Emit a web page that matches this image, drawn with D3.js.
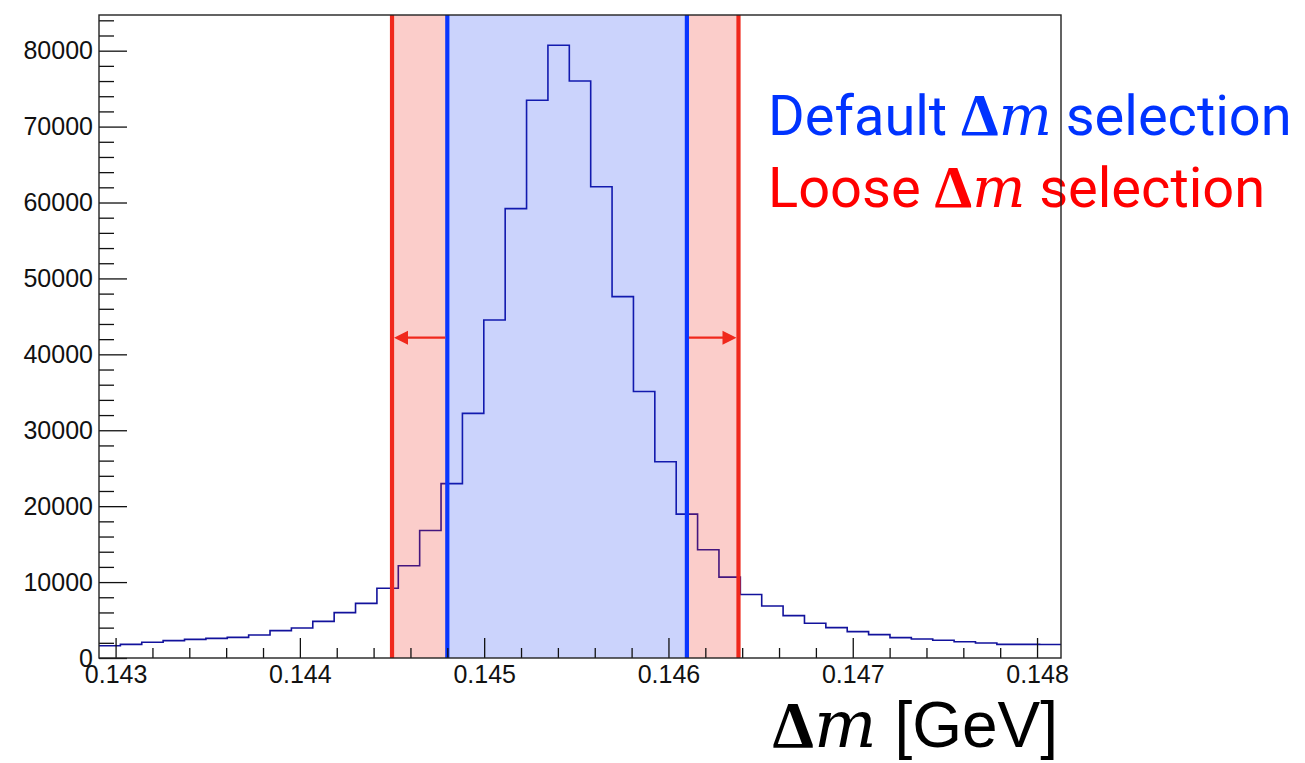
<!DOCTYPE html>
<html>
<head>
<meta charset="utf-8">
<script src="https://cdn.jsdelivr.net/npm/d3@7"></script>
<style>
  html, body { margin: 0; padding: 0; background: #ffffff; }
  svg { display: block; }
</style>
</head>
<body>
<svg id="chart" width="1305" height="763"></svg>
<script>
// ---------------- data ----------------
const xRange = [0.14291, 0.14813];          // histogram axis range [GeV]
const nBins = 45;
const counts = [1620, 1800, 2065, 2285, 2460, 2590, 2720, 3030, 3600, 3950,
                4830, 5975, 7200, 9180, 12150, 16800, 22970, 32220, 44530, 59200,
                73480, 80710, 76010, 62080, 47600, 35100, 25860, 18950, 14260, 10660,
                8360, 6850, 5580, 4570, 4000, 3470, 3075, 2680, 2500, 2330,
                2150, 1980, 1800, 1790, 1780];
const yMax = 84700;
const xMajorTicks = [0.143, 0.144, 0.145, 0.146, 0.147, 0.148];
const xTickLabels = ["0.143", "0.144", "0.145", "0.146", "0.147", "0.148"];
const xMinorTicks = [0.1432, 0.1434, 0.1436, 0.1438, 0.1442, 0.1444, 0.1446, 0.1448,
                     0.1452, 0.1454, 0.1456, 0.1458, 0.1462, 0.1464, 0.1466, 0.1468,
                     0.1472, 0.1474, 0.1476, 0.1478];
const yMajorTicks = [0, 10000, 20000, 30000, 40000, 50000, 60000, 70000, 80000];
const yMinorStep = 2000;
const defaultCut = [0.1448, 0.1461];
const looseCut = [0.1445, 0.14638];
const legendLines = [
  {pre: "Default ", post: " selection", key: "default"},
  {pre: "Loose ", post: " selection", key: "loose"}
];
const xTitle = {greek: "Δ", sym: "m", unit: " [GeV]"};

// ---------------- layout ----------------
const L = 99, R = 1061, T = 15, B = 658;
const svg = d3.select("#chart");
const x = d3.scaleLinear().domain(xRange).range([L, R]);
const y = d3.scaleLinear().domain([0, yMax]).range([B, T]);

const blueLine = "#0a36ff";
const redLine = "#f0281c";
const histCol = "#12129c";
const serif = "'Liberation Serif', 'Times New Roman', serif";
const mathIt = "'DejaVu Serif', 'Liberation Serif', serif";

// ---------------- histogram ----------------
const bw = (xRange[1] - xRange[0]) / nBins;
const pts = counts.map((c, i) => [xRange[0] + i * bw, c]);
pts.push([xRange[1], counts[counts.length - 1]]);
svg.append("path")
  .attr("d", d3.line().x(d => x(d[0])).y(d => y(d[1])).curve(d3.curveStepAfter)(pts))
  .attr("fill", "none")
  .attr("stroke", histCol)
  .attr("stroke-width", 1.6);

// ---------------- selection bands ----------------
const bands = [
  {a: looseCut[0], b: defaultCut[0], fill: "rgba(238,40,28,0.23)"},
  {a: defaultCut[1], b: looseCut[1], fill: "rgba(238,40,28,0.23)"},
  {a: defaultCut[0], b: defaultCut[1], fill: "rgba(20,55,240,0.22)"}
];
svg.selectAll("rect.band").data(bands).enter().append("rect")
  .attr("class", "band")
  .attr("x", d => x(d.a)).attr("width", d => x(d.b) - x(d.a))
  .attr("y", T).attr("height", B - T)
  .attr("fill", d => d.fill);

// vertical cut lines
const cutLines = [
  {v: looseCut[0], c: redLine}, {v: looseCut[1], c: redLine},
  {v: defaultCut[0], c: blueLine}, {v: defaultCut[1], c: blueLine}
];
svg.selectAll("line.cut").data(cutLines).enter().append("line")
  .attr("class", "cut")
  .attr("x1", d => x(d.v)).attr("x2", d => x(d.v))
  .attr("y1", T).attr("y2", B)
  .attr("stroke", d => d.c).attr("stroke-width", 4.2);

// arrows
const arrowY = y(42200);
const arrows = [
  {from: defaultCut[0], to: looseCut[0]},
  {from: defaultCut[1], to: looseCut[1]}
];
arrows.forEach(a => {
  const x0 = x(a.from) + (a.to < a.from ? -2 : 2);
  const x1 = x(a.to) + (a.to < a.from ? 2 : -2);
  const dir = Math.sign(x1 - x0);
  const hl = 14, hw = 7;
  svg.append("line")
    .attr("x1", x0).attr("x2", x1 - dir * hl + dir)
    .attr("y1", arrowY).attr("y2", arrowY)
    .attr("stroke", redLine).attr("stroke-width", 2.4);
  svg.append("path")
    .attr("d", `M${x1},${arrowY} L${x1 - dir * hl},${arrowY - hw} L${x1 - dir * hl},${arrowY + hw} Z`)
    .attr("fill", redLine);
});

// ---------------- axes ----------------
const fontAxis = "'Liberation Sans', Arial, Helvetica, sans-serif";
const yAxis = d3.axisLeft(y).tickValues(yMajorTicks).tickSizeInner(-28).tickSizeOuter(0)
  .tickPadding(6).tickFormat(d3.format("d"));
const gy = svg.append("g").attr("transform", `translate(${L},0)`).call(yAxis);
const yMinor = d3.range(0, yMax, yMinorStep).filter(v => v % 10000 !== 0);
const gym = svg.append("g").attr("transform", `translate(${L},0)`)
  .call(d3.axisLeft(y).tickValues(yMinor).tickSizeInner(-15).tickSizeOuter(0).tickFormat(""));

const xAxis = d3.axisBottom(x).tickValues(xMajorTicks).tickSizeInner(-20).tickSizeOuter(0)
  .tickPadding(7).tickFormat((d, i) => xTickLabels[i]);
const gx = svg.append("g").attr("transform", `translate(0,${B})`).call(xAxis);
const gxm = svg.append("g").attr("transform", `translate(0,${B})`)
  .call(d3.axisBottom(x).tickValues(xMinorTicks).tickSizeInner(-10).tickSizeOuter(0).tickFormat(""));

[gy, gym, gx, gxm].forEach(g => {
  g.select(".domain").remove();
  g.selectAll(".tick line").attr("stroke", "#111").attr("stroke-width", 1.3);
  g.selectAll("text").attr("font-family", fontAxis).attr("font-size", 25).attr("fill", "#111");
});

// ---------------- legend text ----------------
const legCol = {default: "#0033ff", loose: "#ff0000"};
legendLines.forEach((ln, i) => {
  const t = svg.append("text")
    .attr("x", 768).attr("y", 135 + i * 71.5)
    .attr("fill", legCol[ln.key])
    .attr("font-family", "Roboto, 'Noto Sans', sans-serif")
    .attr("font-size", 56);
  t.append("tspan").text(ln.pre);
  t.append("tspan").attr("font-family", serif).attr("font-weight", "bold")
    .attr("font-size", 60).text("Δ");
  t.append("tspan").attr("font-family", mathIt)
    .attr("font-style", "italic").attr("font-size", 56).text("m");
  t.append("tspan").text(ln.post);
});

// ---------------- x title ----------------
const xt = svg.append("text")
  .attr("x", 1058).attr("y", 747)
  .attr("text-anchor", "end")
  .attr("fill", "#000");
xt.append("tspan").attr("font-family", serif).attr("font-weight", "bold")
  .attr("font-size", 66).text(xTitle.greek);
xt.append("tspan").attr("font-family", mathIt)
  .attr("font-style", "italic").attr("font-size", 66).text(xTitle.sym);
xt.append("tspan").attr("font-family", fontAxis).attr("font-size", 64).text(xTitle.unit);

// ---------------- frame ----------------
svg.append("rect")
  .attr("x", L).attr("y", T).attr("width", R - L).attr("height", B - T)
  .attr("fill", "none").attr("stroke", "#222").attr("stroke-width", 1.4);
</script>
</body>
</html>
